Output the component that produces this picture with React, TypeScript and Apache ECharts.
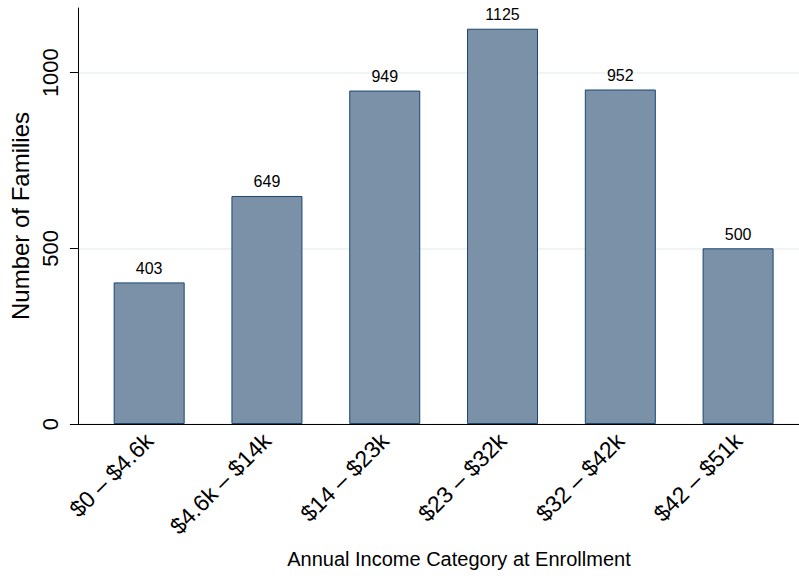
import React, { useEffect, useRef } from 'react';
import * as echarts from 'echarts';

const categories = ['$0 – $4.6k', '$4.6k – $14k', '$14 – $23k', '$23 – $32k', '$32 – $42k', '$42 – $51k'];
const families = [403, 649, 949, 1125, 952, 500];
const yTicks = [0, 500, 1000];

const FONT = '"Liberation Sans", Arial, Helvetica, sans-serif';

const App = () => {
  const chartRef = useRef(null);

  useEffect(() => {
    const chart = echarts.init(chartRef.current, null, { renderer: 'svg' });

    const option = {
      animation: false,
      textStyle: { fontFamily: FONT },
      grid: { left: 74, right: 0, top: 8, bottom: 152 },
      xAxis: {
        type: 'value',
        min: -0.605,
        max: 5.517,
        name: 'Annual Income Category at Enrollment',
        nameLocation: 'middle',
        nameGap: 125,
        nameTextStyle: { fontSize: 20, color: '#000', fontFamily: FONT, padding: [0, 0, 0, 41] },
        axisLine: { show: true, onZero: false, lineStyle: { color: '#000', width: 1 } },
        axisTick: { show: false },
        splitLine: { show: false },
        axisLabel: {
          customValues: categories.map((_, i) => i),
          formatter: (v: number) => categories[Math.round(v)] ?? '',
          rotate: 45,
          margin: 13,
          fontSize: 23,
          color: '#000',
          fontFamily: FONT,
        },
      },
      yAxis: {
        type: 'value',
        min: 0,
        max: 1184,
        interval: 500,
        name: 'Number of Families',
        nameLocation: 'middle',
        nameGap: 40,
        nameTextStyle: { fontSize: 24, color: '#000', fontFamily: FONT },
        axisLine: { show: true, onZero: false, lineStyle: { color: '#000', width: 1 } },
        axisTick: { show: true, length: 8, lineStyle: { color: '#000' }, customValues: yTicks },
        axisLabel: {
          customValues: yTicks,
          formatter: (v: number) => String(v),
          rotate: 90,
          margin: 16,
          fontSize: 22,
          color: '#000',
          fontFamily: FONT,
        },
        splitLine: { show: true, lineStyle: { color: '#eaf2f3', width: 1.5 } },
      },
      series: [
        {
          type: 'bar',
          data: families.map((v, i) => [i, v]),
          barWidth: 71,
          itemStyle: { color: '#7b91a8', borderColor: '#1a476f', borderWidth: 1 },
          label: { show: true, position: 'top', distance: 6, fontSize: 16, color: '#000', fontFamily: FONT },
        },
      ],
    };

    chart.setOption(option);
    return () => chart.dispose();
  }, []);

  return (
    <div
      ref={chartRef}
      style={{ position: 'fixed', left: 0, top: 0, width: 799, height: 576, background: '#fff' }}
    />
  );
};

export default App;
